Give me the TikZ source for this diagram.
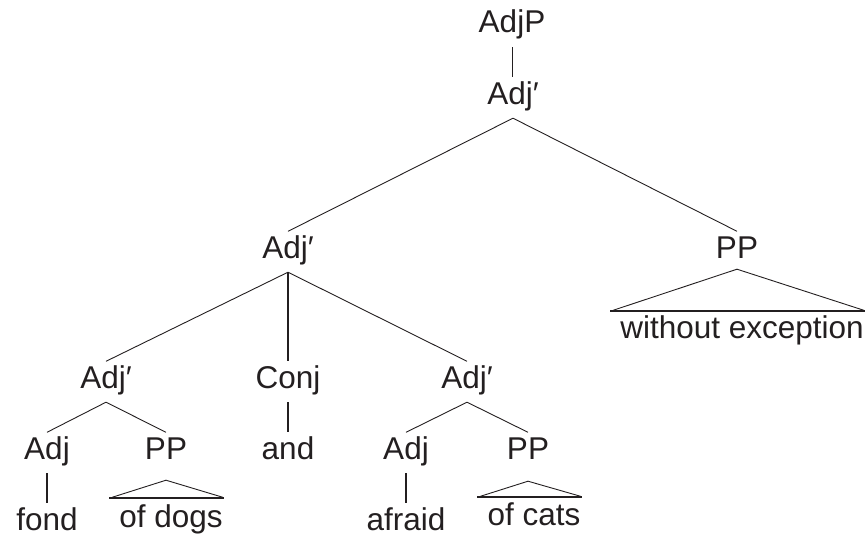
\documentclass[tikz,border=0pt]{standalone}
\usepackage{fontspec}
\setmainfont{Liberation Sans}
\usetikzlibrary{calc}
\definecolor{ink}{HTML}{231F20}
\tikzset{
  lbl/.style={anchor=base, inner xsep=0pt, inner ysep=5pt, text height=21.5pt, text depth=9pt,
              font=\fontsize{31.5}{37}\selectfont, text=ink},
  leaf/.style={anchor=base, inner xsep=0pt, inner ysep=5pt, text height=21.5pt, text depth=0pt,
               font=\fontsize{31.5}{37}\selectfont, text=ink},
  branch/.style={draw=ink, line width=0.9pt},
  unary/.style={draw=ink, line width=1.7pt},
  roofbase/.style={draw=ink, line width=1.8pt},
}
\begin{document}
\begin{tikzpicture}[x=1pt, y=-1pt]
\useasboundingbox (0,0) rectangle (865,535);

% category labels
\node[lbl] (adjp) at (512,33)  {AdjP};
\node[lbl] (a1)   at (513,104) {Adj′};
\node[lbl] (a2)   at (288,258) {Adj′};
\node[lbl] (pp1)  at (737,258) {PP};
\node[lbl] (a3)   at (106,388) {Adj′};
\node[lbl] (conj) at (288,388) {Conj};
\node[lbl] (a4)   at (467,388) {Adj′};
\node[lbl] (adj1) at (47,459)  {Adj};
\node[lbl] (pp2)  at (166,459) {PP};
\node[lbl] (and)  at (288,459) {and};
\node[lbl] (adj2) at (406,459) {Adj};
\node[lbl] (pp3)  at (528,459) {PP};

% terminal strings
\node[leaf] (fond)   at (47,530)  {fond};
\node[leaf] (afraid) at (406,530) {afraid};
\node[leaf] (dogs)   at (171,527) {of dogs};
\node[leaf] (cats)   at (534,525) {of cats};
\node[leaf] (wexc)   at (742,338) {without exception};

% branches
\draw[branch] (adjp.south) -- (adjp.south |- a1.north);
\draw[branch] (a1.south) -- (a2.north);
\draw[branch] (a1.south) -- (pp1.north);
\draw[branch] (a2.south) -- (a3.north);
\draw[unary]  (a2.south) -- (conj.north);
\draw[branch] (a2.south) -- (a4.north);
\draw[branch] (a3.south) -- (adj1.north);
\draw[branch] (a3.south) -- (pp2.north);
\draw[branch] (a4.south) -- (adj2.north);
\draw[branch] (a4.south) -- (pp3.north);
\draw[unary]  (conj.south) -- (and.north);
\draw[unary]  (adj1.south) -- (fond.north);
\draw[unary]  (adj2.south) -- (afraid.north);

% roofs over unanalysed phrases
\coordinate (r1) at ($(pp1.south)+(0,-3)$);
\draw[branch] ($(wexc.north west)+(-7,-1)$) -- (r1) -- ($(wexc.north east)+(0,-1)$);
\draw[roofbase] ($(wexc.north west)+(-10,0)$) -- ($(wexc.north east)+(2,0)$);

\coordinate (r2) at ($(pp2.south)+(0,7)$);
\draw[branch] ($(dogs.north west)+(-7,-3)$) -- (r2) -- ($(dogs.north east)+(0,-3)$);
\draw[roofbase] ($(dogs.north west)+(-10,-2)$) -- ($(dogs.north east)+(1,-2)$);

\coordinate (r3) at ($(pp3.south)+(0,8)$);
\draw[branch] ($(cats.north west)+(-7,-2)$) -- (r3) -- ($(cats.north east)+(0,-2)$);
\draw[roofbase] ($(cats.north west)+(-10,-1)$) -- ($(cats.north east)+(1,-1)$);
\end{tikzpicture}
\end{document}
